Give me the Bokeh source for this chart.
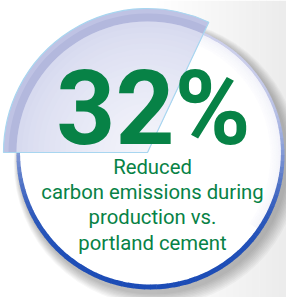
import numpy as np
from bokeh.plotting import figure
from bokeh.models import Range1d
from bokeh.embed import file_html
from bokeh.resources import INLINE
from bokeh.core.properties import value

# ---- data ----
reduction_pct = [32]
headline = [f"{reduction_pct[0]}%"]
caption_lines = ["Reduced", "carbon emissions during", "production vs.", "portland cement"]

# ---- layout (reference pixel space, y measured downward) ----
W, H = 286.0, 297.0


def Y(y):
    return H - y


def hex2rgb(h):
    h = h.lstrip("#")
    return tuple(int(h[i:i + 2], 16) for i in (0, 2, 4))


def mix(c1, c2, t):
    a, b = hex2rgb(c1), hex2rgb(c2)
    return "#%02x%02x%02x" % tuple(int(round(a[i] + (b[i] - a[i]) * t)) for i in range(3))


p = figure(width=286, height=297, output_backend="svg", toolbar_location=None,
           x_range=Range1d(0, W), y_range=Range1d(0, H), min_border=0)
p.axis.visible = False
p.grid.visible = False
p.outline_line_color = None
p.background_fill_color = "white"
p.border_fill_color = "white"

# light grey backdrop towards the right
nb = 20
for k in range(nb):
    x0 = 150 + k * (W - 150) / nb
    x1 = 150 + (k + 1) * (W - 150) / nb + 0.5
    p.quad(left=[x0], right=[x1], bottom=[0], top=[H],
           fill_color=mix("#ffffff", "#ececec", (k + 0.5) / nb), line_color=None)

cx, cy, R = 150.0, 155.0, 134.0

# soft drop shadow
for k in range(9):
    p.circle(x=[cx + 3 + k * 0.4], y=[Y(cy + 4 + k * 0.4)], radius=R + 1 + k,
             fill_color="#000000", fill_alpha=0.03, line_color=None)

# white disc
p.circle(x=[cx], y=[Y(cy)], radius=R - 2, fill_color="white", line_color=None)

# faint inner lavender glow near rim (upper right)
for k in range(6):
    p.annular_wedge(x=[cx], y=[Y(cy)], inner_radius=R - 14 + k * 2, outer_radius=R - 12 + k * 2,
                    start_angle=-0.6, end_angle=2.0,
                    fill_color="#c9cdea", fill_alpha=0.05 + 0.04 * k, line_color=None)

# gradient rim: light lavender on top, strong blue at bottom
N = 144
angs = np.linspace(0, 2 * np.pi, N + 1)
lo = 1 / (1 + np.exp(-5 * (1 + 0.05)))
hi = 1 / (1 + np.exp(-5 * (-1 + 0.05)))
for i in range(N):
    a0, a1 = angs[i], angs[i + 1]
    am = 0.5 * (a0 + a1)
    s = 1 / (1 + np.exp(-5 * (np.sin(am) + 0.05)))
    t = (lo - s) / (lo - hi)
    col = mix("#cdd0ec", "#1c4cb6", t)
    w = 2.5 + 2.5 * t
    p.annular_wedge(x=[cx], y=[Y(cy)], inner_radius=R - w, outer_radius=R,
                    start_angle=a0, end_angle=a1 + 0.004,
                    fill_color=col, line_color=None)

# the 32 % slice, lifted out
wx, wy, WR = 147.0, 152.0, 144.0
end_a = np.pi
start_a = np.pi - 2 * np.pi * reduction_pct[0] / 100.0

p.wedge(x=[wx], y=[Y(wy)], radius=WR, start_angle=start_a, end_angle=end_a,
        fill_color="#bfc3e4", line_color=None)
p.annular_wedge(x=[wx], y=[Y(wy)], inner_radius=WR - 13, outer_radius=WR - 5,
                start_angle=start_a, end_angle=end_a,
                fill_color="#b3b8dd", line_color=None)
ng = 24
for k in range(ng):
    r = (WR - 13) * (1 - k / ng)
    col = mix("#d7daef", "#f4f5fb", (k / (ng - 1)) ** 0.8)
    p.wedge(x=[wx], y=[Y(wy)], radius=r, start_angle=start_a, end_angle=end_a,
            fill_color=col, line_color=None)
p.wedge(x=[wx], y=[Y(wy)], radius=WR, start_angle=start_a, end_angle=end_a,
        fill_color=None, line_color="#a8d6f0", line_width=1.2)

# headline (anchored at the middle of the em box)
fs_head = 103.0
p.text(x=[153], y=[Y(143 - 0.34 * fs_head)], text=headline,
       text_font=value("Roboto"), text_font_style="bold",
       text_font_size=f"{fs_head:.1f}px", text_align="center",
       text_baseline="middle", text_color="#078246")

# caption
fs_cap = 20.3
base = [173, 198.5, 223.5, 249]
p.text(x=[152] * 4, y=[Y(b - 0.34 * fs_cap) for b in base], text=caption_lines,
       text_font=value("Roboto"), text_font_style="normal",
       text_font_size=f"{fs_cap:.1f}px", text_align="center",
       text_baseline="middle", text_color="#078246")

open("out.html", "w").write(file_html(p, INLINE))
